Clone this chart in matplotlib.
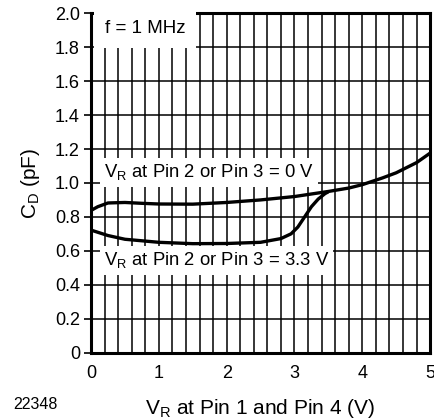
import numpy as np
import matplotlib.pyplot as plt
from matplotlib.ticker import MultipleLocator

plt.rcParams['font.family'] = ['Liberation Sans', 'DejaVu Sans']
plt.rcParams['mathtext.fontset'] = 'custom'
plt.rcParams['mathtext.rm'] = 'Liberation Sans'

# V_R at Pin 2 or Pin 3 = 0 V
vr_0v = [0, 0.1, 0.25, 0.5, 0.75, 1.0, 1.5, 2.0, 2.5, 3.0, 3.5, 3.8, 4.0, 4.3, 4.5, 4.8, 5.0]
cd_0v = [0.838, 0.86, 0.882, 0.885, 0.88, 0.876, 0.875, 0.885, 0.9, 0.92, 0.95, 0.97, 0.99, 1.03, 1.06, 1.12, 1.176]

# V_R at Pin 2 or Pin 3 = 3.3 V
vr_33v = [0, 0.25, 0.5, 1.0, 1.5, 2.0, 2.5, 2.8, 2.95, 3.05, 3.15, 3.25, 3.35, 3.45, 3.5]
cd_33v = [0.722, 0.69, 0.668, 0.65, 0.642, 0.643, 0.65, 0.672, 0.70, 0.74, 0.80, 0.86, 0.905, 0.937, 0.948]

fig = plt.figure(figsize=(4.34, 4.2), dpi=100)
ax = fig.add_axes([0.2097, 0.1607, 0.7813, 0.8073])

ax.plot(vr_0v, cd_0v, color='black', lw=2.4, zorder=4, solid_capstyle='butt')
ax.plot(vr_33v, cd_33v, color='black', lw=2.4, zorder=4, solid_capstyle='butt')

ax.set_xlim(0, 5)
ax.set_ylim(0, 2.0)
ax.xaxis.set_major_locator(MultipleLocator(1))
ax.xaxis.set_minor_locator(MultipleLocator(0.2))
ax.grid(which='both', axis='x', color='black', lw=1.1, zorder=1)
ax.grid(which='major', axis='y', color='black', lw=1.1, zorder=1)
ax.set_axisbelow(True)

ax.set_yticks(np.arange(0, 2.01, 0.2))
ax.set_yticklabels(['0'] + [f'{v:.1f}' for v in np.arange(0.2, 2.01, 0.2)])
ax.tick_params(axis='y', which='major', direction='out', length=5, width=1.2,
               labelsize=13, pad=3)
ax.tick_params(axis='x', which='both', length=0, labelsize=13, pad=9)

for s in ax.spines.values():
    s.set_linewidth(2.2)

box = dict(facecolor='white', edgecolor='none', pad=3)
ax.text(0.2, 1.91, 'f = 1 MHz', fontsize=13.5, va='center', ha='left',
        bbox=dict(facecolor='white', edgecolor='none', pad=8), zorder=3)
ax.text(0.19, 1.062, r'V$_\mathrm{R}$ at Pin 2 or Pin 3 = 0 V', fontsize=13.3,
        va='center', ha='left', bbox=box, zorder=3)
ax.text(0.19, 0.543, r'V$_\mathrm{R}$ at Pin 2 or Pin 3 = 3.3 V', fontsize=13.3,
        va='center', ha='left', bbox=box, zorder=3)

ax.set_xlabel(r'V$_\mathrm{R}$ at Pin 1 and Pin 4 (V)', fontsize=15, labelpad=11)
ax.set_ylabel(r'C$_\mathrm{D}$ (pF)', fontsize=15, labelpad=9)

fig.text(0.03, 0.037, '22348', fontsize=11.5, ha='left', va='center')

fig.savefig('out.png', dpi=100)
